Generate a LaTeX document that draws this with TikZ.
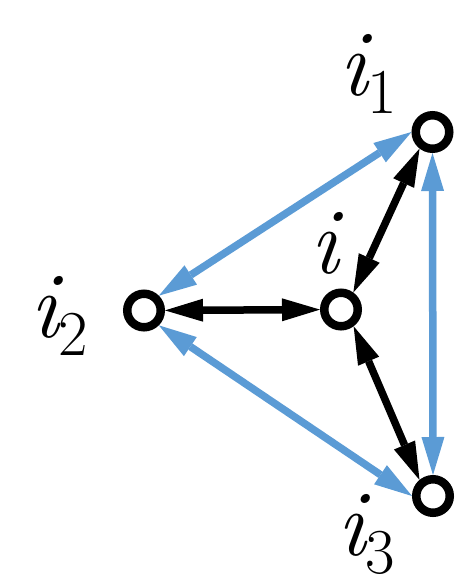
\documentclass[tikz,border=0pt]{standalone}
\usepackage{fontspec}
\usetikzlibrary{arrows.meta}
\definecolor{edgeblue}{RGB}{91,155,213}
\newcommand{\sublab}[1]{\itshape\addfontfeatures{FakeBold=3}i\raisebox{-18pt}{\upshape\addfontfeatures{FakeBold=2}\fontsize{64}{72}\selectfont #1}}
\begin{document}
\begin{tikzpicture}[x=1pt,y=-1pt,
  vertex/.style={circle,draw=black,line width=8.5pt,minimum size=33.5pt,inner sep=0pt,fill=white},
  tip/.tip={Triangle[length=38pt,width=23pt,line width=0pt]},
  blackedge/.style={draw=black,line width=7.5pt,{tip}-{tip}},
  blueedge/.style={draw=edgeblue,line width=7.5pt,{tip}-{tip}},
  lab/.style={anchor=base west,inner sep=0pt,font=\fontsize{94}{104}\selectfont}]
\useasboundingbox (0,0) rectangle (471,587);
\node[vertex] (i1) at (432.5,132) {};
\node[vertex] (i) at (341,309.5) {};
\node[vertex] (i2) at (144,310.5) {};
\node[vertex] (i3) at (433,496) {};
\node[lab] (l1) at (339,95) {\sublab{1}};
\node[lab] (l) at (310,273) {\itshape\addfontfeatures{FakeBold=3}i};
\node[lab] (l2) at (30,337) {\sublab{2}};
\node[lab] (l3) at (337,555) {\sublab{3}};
\draw[blueedge] (i2.45) -- (i1.180);
\draw[blueedge] (i2.-45) -- (i3.180);
\draw[blueedge] (i1.south) -- (i3.north);
\draw[blackedge] (i2) -- (i);
\draw[blackedge] (i.54) -- (i1.232);
\draw[blackedge] (i.-53) -- (i3.130);
\end{tikzpicture}
\end{document}
